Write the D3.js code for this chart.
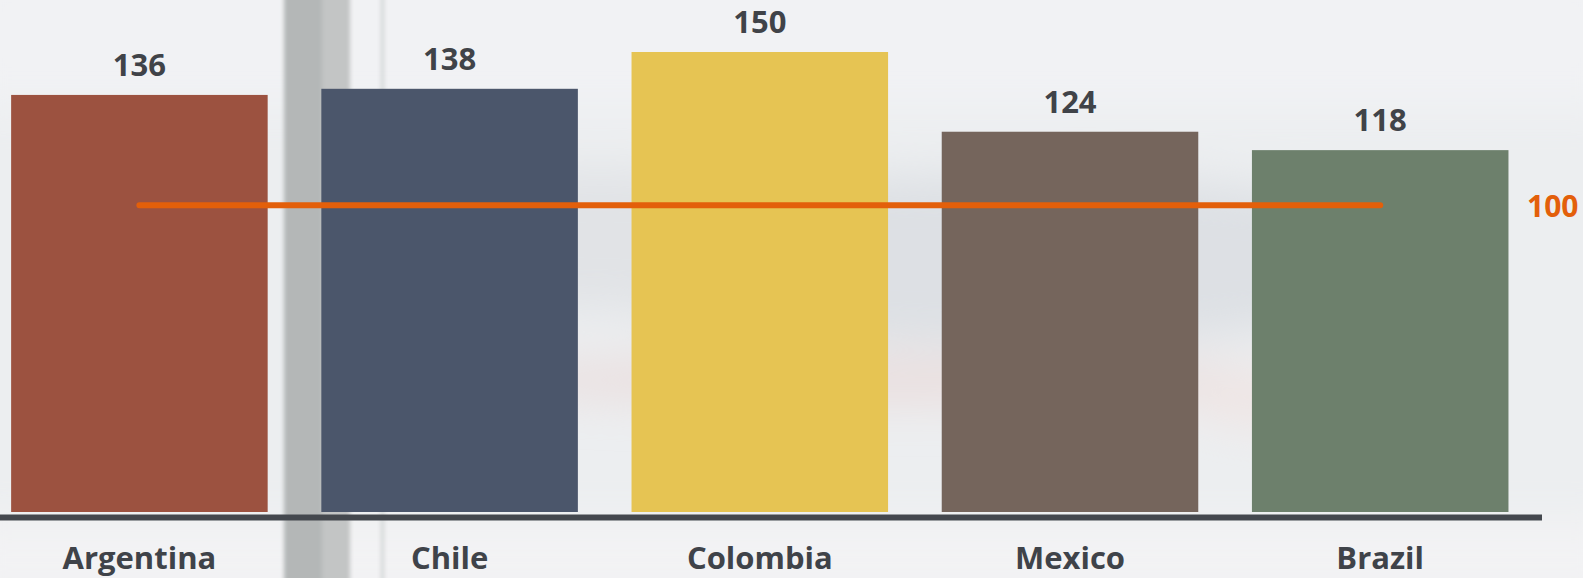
<!DOCTYPE html>
<html>
<head>
<meta charset="utf-8">
<script src="https://cdn.jsdelivr.net/npm/d3@7"></script>
<style>
  html, body { margin: 0; padding: 0; background: #eceef0; }
  svg { display: block; }
  .lbl { font-family: "Open Sans", "Noto Sans", sans-serif; font-weight: 700; }
</style>
</head>
<body>
<div id="chart"></div>
<script>
  // chart data
  var categories = ['Argentina', 'Chile', 'Colombia', 'Mexico', 'Brazil'];
  var values = [136, 138, 150, 124, 118];
  var barColors = ['#9c5240', '#4b566b', '#e6c453', '#75655c', '#6d806c'];
  var benchmark = 100;

  var W = 1583, H = 578;

  var svg = d3.select('#chart').append('svg')
      .attr('width', W).attr('height', H);

  /**
   * Soft, blurred backdrop standing in for the photo behind the chart.
   */
  var drawBackdrop = function() {
    var defs = svg.append('defs');
    defs.append('filter').attr('id', 'blur')
        .attr('x', '-20%').attr('y', '-20%').attr('width', '140%').attr('height', '140%')
      .append('feGaussianBlur').attr('stdDeviation', 22);
    defs.append('filter').attr('id', 'blurSmall')
      .append('feGaussianBlur').attr('stdDeviation', 2);

    var bg = svg.append('g');
    bg.append('rect').attr('width', W).attr('height', H).attr('fill', '#eceef0');
    var blobs = bg.append('g').attr('filter', 'url(#blur)');
    blobs.append('rect').attr('x', -40).attr('y', -40).attr('width', W + 80).attr('height', 150)
        .attr('fill', '#f1f2f4');
    blobs.append('ellipse').attr('cx', 1000).attr('cy', 260).attr('rx', 460).attr('ry', 85)
        .attr('fill', '#dde0e4');
    blobs.append('ellipse').attr('cx', 600).attr('cy', 240).attr('rx', 260).attr('ry', 70)
        .attr('fill', '#e1e3e6');
    blobs.append('ellipse').attr('cx', 880).attr('cy', 380).attr('rx', 420).attr('ry', 25)
        .attr('fill', '#eadfdf');
    blobs.append('ellipse').attr('cx', 1300).attr('cy', 400).attr('rx', 120).attr('ry', 30)
        .attr('fill', '#efe6e5');
    blobs.append('rect').attr('x', -40).attr('y', 520).attr('width', W + 80).attr('height', 80)
        .attr('fill', '#f3f3f4');
    // window pillar on the left
    var pillar = bg.append('g').attr('filter', 'url(#blurSmall)');
    pillar.append('rect').attr('x', 284).attr('y', -10).attr('width', 38).attr('height', H + 20)
        .attr('fill', '#b4b7b7');
    pillar.append('rect').attr('x', 322).attr('y', -10).attr('width', 28).attr('height', H + 20)
        .attr('fill', '#c3c5c5');
    pillar.append('rect').attr('x', 381).attr('y', -10).attr('width', 3).attr('height', H + 20)
        .attr('fill', '#cfd3d3');
  };

  drawBackdrop();

  var x = d3.scaleBand().domain(categories)
      .range([-15.7, 1535.3]).paddingInner(0.173).paddingOuter(0.0865);
  var y = d3.scaleLinear().domain([0, 150]).range([512, 52]);

  var plot = svg.append('g');

  // bars
  plot.selectAll('rect.bar').data(categories).enter().append('rect')
      .attr('class', 'bar')
      .attr('x', function(d) { return x(d); })
      .attr('width', x.bandwidth())
      .attr('y', function(d, i) { return y(values[i]); })
      .attr('height', function(d, i) { return y(0) - y(values[i]); })
      .attr('fill', function(d, i) { return barColors[i]; });

  // value labels above bars
  plot.selectAll('text.val').data(categories).enter().append('text')
      .attr('class', 'lbl val')
      .attr('x', function(d) { return x(d) + x.bandwidth() / 2; })
      .attr('y', function(d, i) { return y(values[i]) - 19; })
      .attr('text-anchor', 'middle')
      .attr('font-size', 31)
      .attr('fill', '#404348')
      .text(function(d, i) { return values[i]; });

  // baseline
  plot.append('line')
      .attr('x1', 0).attr('x2', 1542)
      .attr('y1', y(0) + 5.5).attr('y2', y(0) + 5.5)
      .attr('stroke', '#44484e').attr('stroke-width', 6);

  // category labels
  var axis = d3.axisBottom(x).tickSize(0).tickPadding(0);
  var gx = plot.append('g').attr('transform', 'translate(0,' + 547 + ')').call(axis);
  gx.select('.domain').remove();
  gx.selectAll('text')
      .attr('class', 'lbl')
      .attr('dy', '0.72em')
      .attr('font-size', 31)
      .attr('fill', '#3f4349');

  // benchmark line
  var first = categories[0], last = categories[categories.length - 1];
  plot.append('line')
      .attr('x1', x(first) + x.bandwidth() / 2)
      .attr('x2', x(last) + x.bandwidth() / 2)
      .attr('y1', y(benchmark)).attr('y2', y(benchmark))
      .attr('stroke', '#e35f0a').attr('stroke-width', 6)
      .attr('stroke-linecap', 'round');
  plot.append('text')
      .attr('class', 'lbl')
      .attr('x', 1527).attr('y', y(benchmark) + 12)
      .attr('font-size', 30)
      .attr('fill', '#e35f0a')
      .text(benchmark);
</script>
</body>
</html>
